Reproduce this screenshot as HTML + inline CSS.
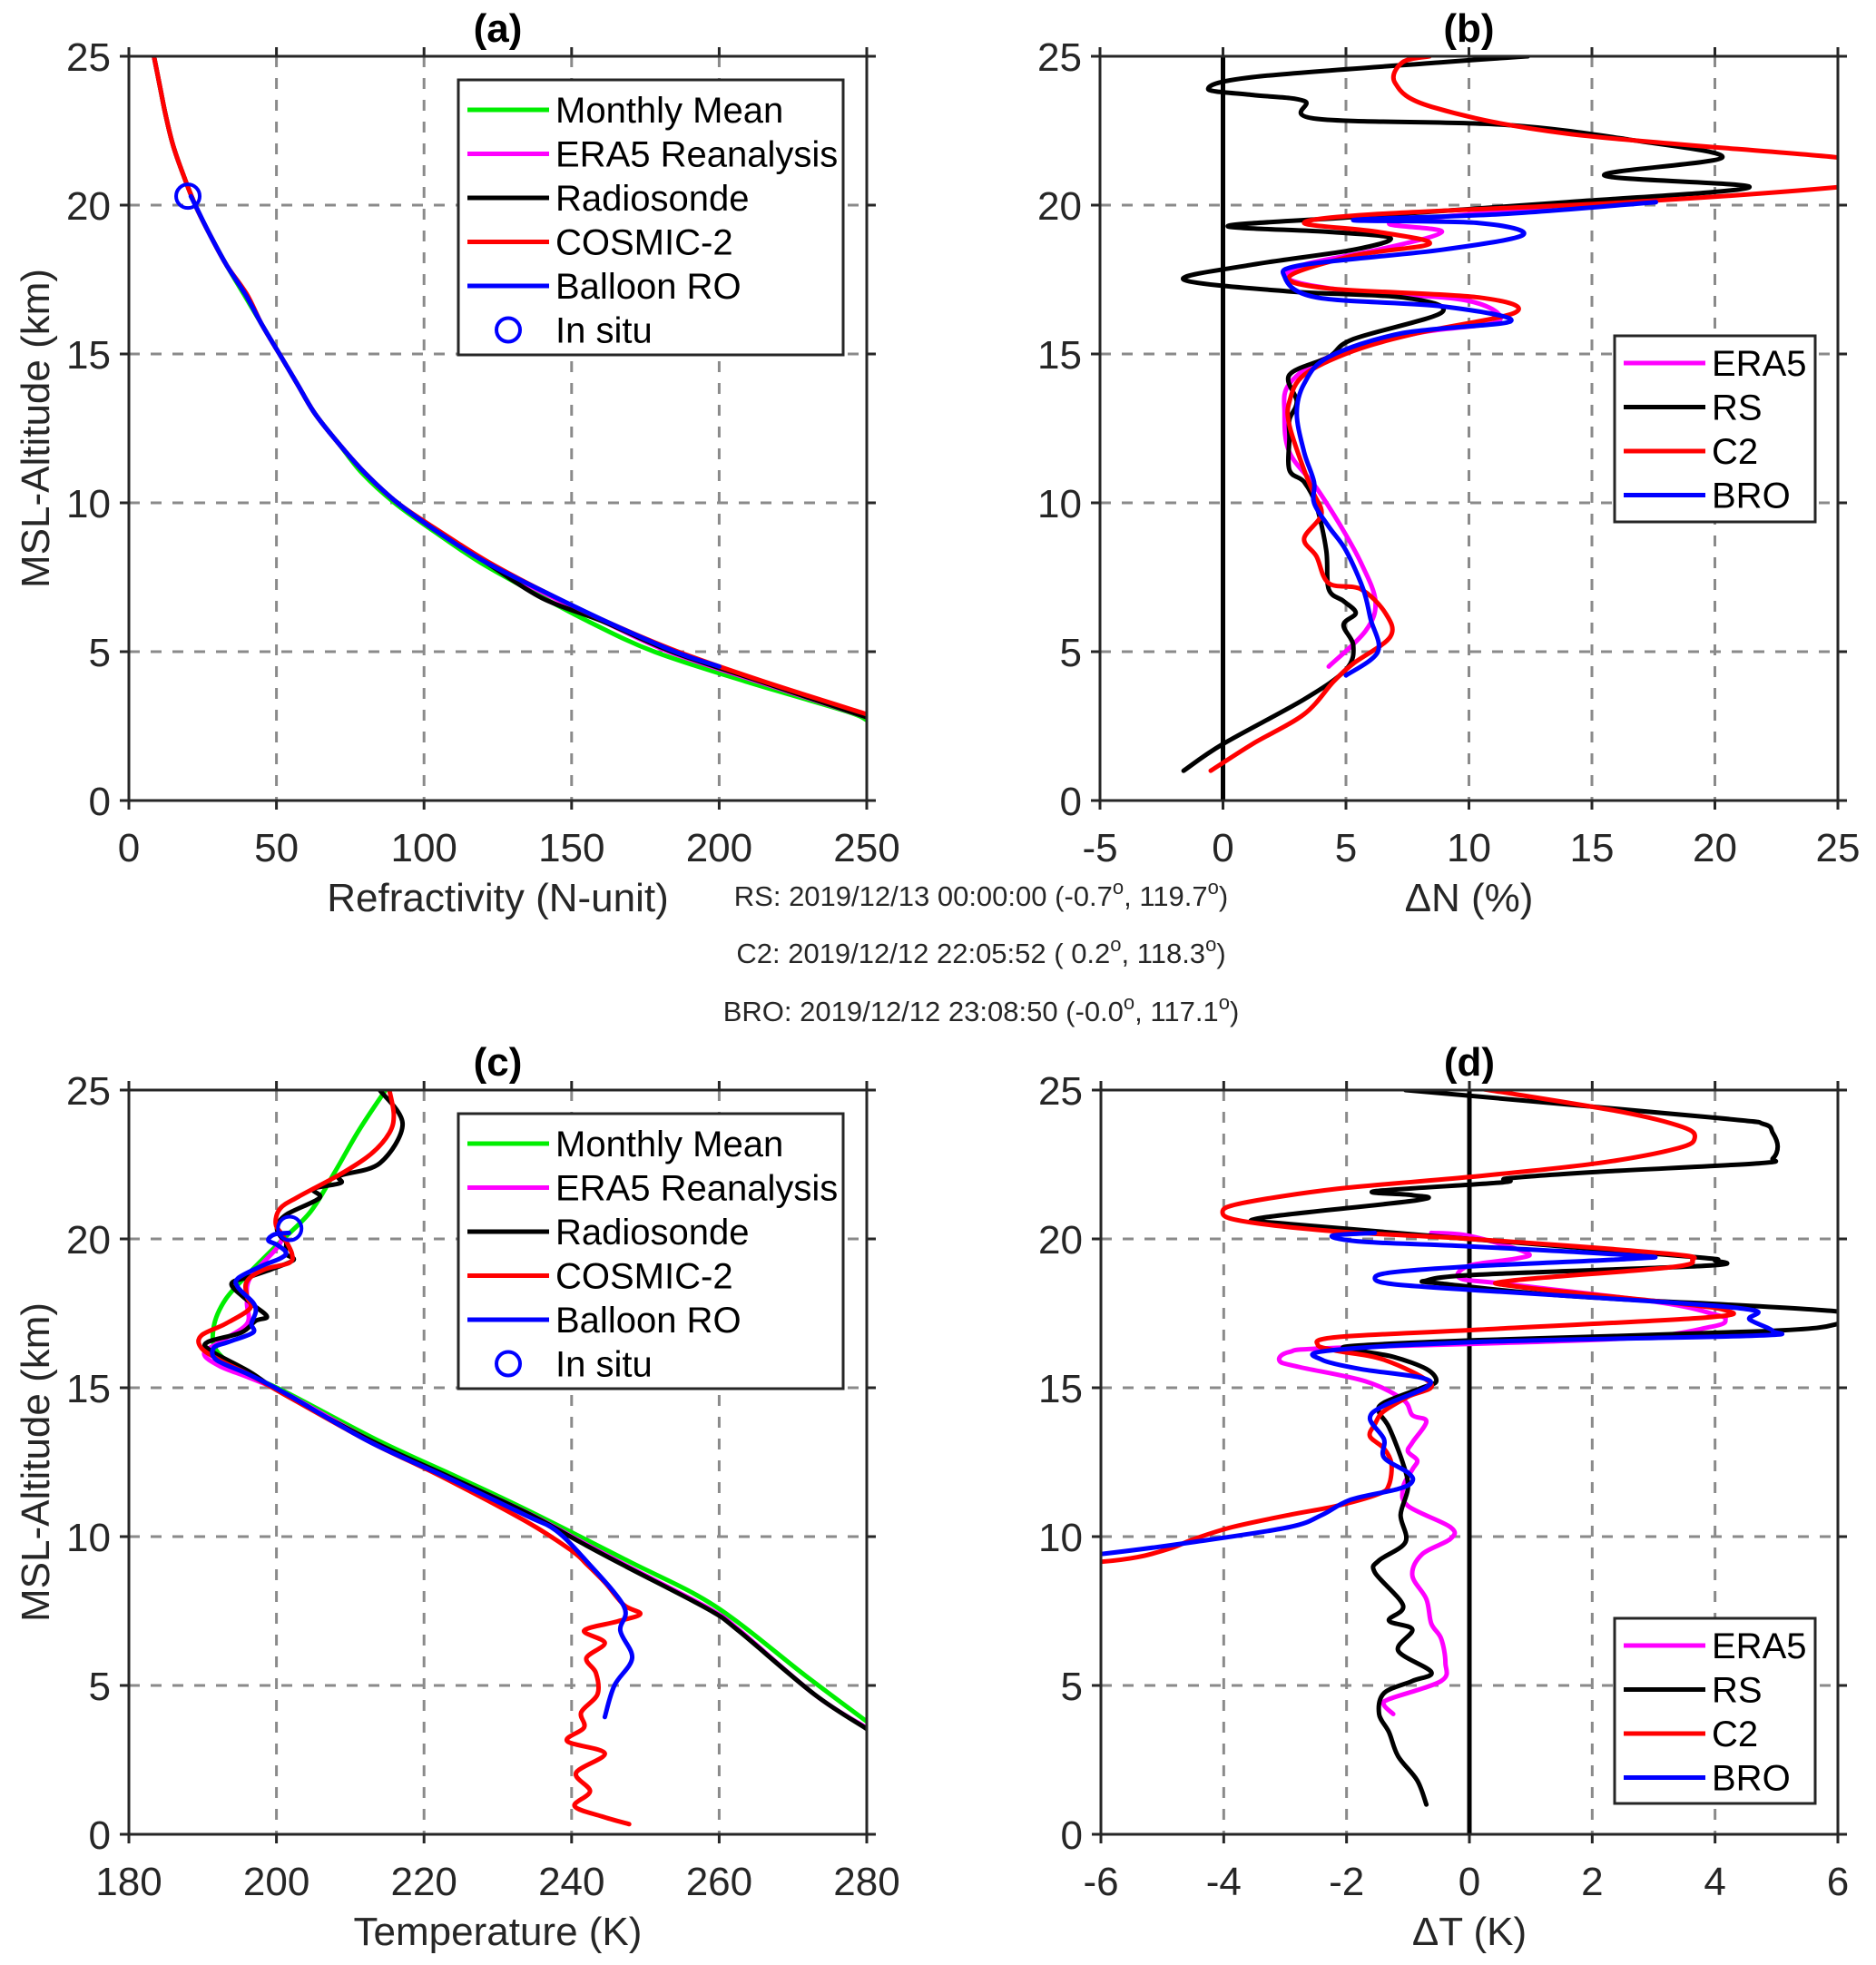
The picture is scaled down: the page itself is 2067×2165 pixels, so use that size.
<!DOCTYPE html>
<html><head><meta charset="utf-8">
<style>
html,body{margin:0;padding:0;background:#fff;}
svg{display:block;font-family:"Liberation Sans",Arial,sans-serif;}
</style></head>
<body>
<svg id="fig" width="2067" height="2165" viewBox="0 0 2067 2165" xmlns="http://www.w3.org/2000/svg">
<rect x="0" y="0" width="2067" height="2165" fill="#fff"/>
<g font-size="31" fill="#262626" text-anchor="middle">
<text x="1081" y="998">RS: 2019/12/13 00:00:00 (-0.7<tspan dy="-13" font-size="22">o</tspan><tspan dy="13">, 119.7</tspan><tspan dy="-13" font-size="22">o</tspan><tspan dy="13">)</tspan></text>
<text x="1081" y="1061">C2: 2019/12/12 22:05:52 ( 0.2<tspan dy="-13" font-size="22">o</tspan><tspan dy="13">, 118.3</tspan><tspan dy="-13" font-size="22">o</tspan><tspan dy="13">)</tspan></text>
<text x="1081" y="1125">BRO: 2019/12/12 23:08:50 (-0.0<tspan dy="-13" font-size="22">o</tspan><tspan dy="13">, 117.1</tspan><tspan dy="-13" font-size="22">o</tspan><tspan dy="13">)</tspan></text>
</g>
</svg>
<script>
// ---------- data: panel (a) refractivity ----------
const aMeanZ=[2.7,3,4,5,6,7,8,9,10,11,12,13,14,15,16,17,18,19,20,21,22,23,24,25];
const aMeanN=[250,243,209,178,156,137,119,104,90,79,71,63,57,51,45,39,33,27.5,22.5,18.5,15,12.5,10.5,8.5];
const aEraZ=[2.8,4,5,6,7,8,9,10,11,12,13,14,15,16,17,18,19,20,21,22,23,24,25];
const aEraN=[250,213,183,161,140,121,105,91,80,71,63,57,51,45,39.5,33,27.5,22.5,18.5,15,12.5,10.5,8.5];
const aRsZ=[2.8,4,5,6,6.8,8,9,10,11,12,13,14,15,16,17,18,19,20,21,22,23,24,25];
const aRsN=[250,214,184,161,140,121,105,91,80,71,63,57,51,45,39.5,33,27.5,22.5,18.5,15,12.5,10.5,8.5];
const aC2Z=[2.9,4,5,6,7,8,9,10,11,12,13,14,15,16,17,18,19,20,21,22,23,24,25];
const aC2N=[250,215,186,162,141,122,106,91,80,71,63,57,51,45,40,33,27.5,22.5,18.5,15,12.5,10.5,8.5];
const aBroZ=[4.5,5,6,7,8,9,10,11,12,13,14,15,16,17,18,19,20,20.3];
const aBroN=[200,185,162,141,121,105,91,80,71,63,57,51,45,39.5,33,27.5,22.5,21];
const aInsitu=[20,20.3];
// ---------- panel (b) dN % ----------
const bEraZ=[4.5,5.7,6.7,8,9.2,10.5,11.7,13,14,14.9,15.7,16.1,16.8,17.1,17.5,18,18.5,19.1,19.4,19.8,20.1];
const bEraX=[4.3,5.8,6.2,5.6,4.8,3.8,2.7,2.5,2.7,4.3,7.9,11.2,9.9,5.3,2.7,3.3,6.3,8.9,6.8,11.4,15];
const bRsZ=[1,1.9,3.4,4.4,5.2,5.9,6.3,6.7,7.1,8.4,9.9,10.7,11.1,12.2,12.8,13.4,14.3,14.9,15.5,16.4,16.9,17.1,17.5,18,18.5,18.9,19.1,19.3,19.6,20.1,20.6,21,21.6,22.2,22.7,22.9,23.5,23.7,23.9,24.3,24.8,25];
const bRsX=[-1.6,0,3.3,5,5.3,4.9,5.4,4.9,4.3,4.2,3.8,3.3,2.7,2.7,2.7,3,2.7,4.3,5.3,8.9,7.3,2.7,-1.6,1.2,5.3,6.8,4.3,0.2,5.3,14,21.4,15.5,20.3,16.5,11.4,3.8,3.3,1.2,-0.6,1.2,8.9,12.4];
const bC2Z=[1,1.9,2.9,4,4.6,5.5,6.3,7.1,7.3,8.2,8.8,9.6,10.3,11.1,12.6,13.4,14.3,15.1,15.7,16.4,16.9,17.2,17.6,18.3,18.7,19.1,19.4,19.7,20.1,20.6,21.1,21.6,22.4,23.3,24.1,24.8,25];
const bC2X=[-0.5,1.2,3.3,4.5,5.3,6.8,6.6,5.6,4.3,3.8,3.3,4,3.7,3.3,2.7,2.7,3.3,5.3,7.9,11.9,10.4,4.3,2.7,5.3,8.4,6.3,3.3,6.3,16.5,25,30,25,14,8.5,7,7.3,8.4];
const bBroZ=[4.2,5,6.1,7.1,8.4,9.2,10,10.7,11.7,13,14,14.9,15.7,16.1,16.6,16.9,17.6,18,18.5,19,19.4,19.5,19.7,20.1];
const bBroX=[5,6.3,6,5.7,5,4.3,3.7,3.7,3.3,3,3.3,4.3,7.3,11.7,8.9,3.8,2.5,3.3,8.9,12.2,10.4,5.3,11.4,17.6];
// ---------- panel (c) temperature ----------
const cMeanZ=[3.79,5.33,7.67,9.2,10.9,12,13.2,14.8,15.53,16.24,17.05,17.97,18.88,19.9,20.91,22.24,23.66,25];
const cMeanT=[280,271.7,259.4,247.5,233.9,224.5,214,201.7,195.6,191.9,191.5,193.1,196.4,200.5,204.6,207.9,211.2,214.8];
const cEraZ=[3.6,4.7,6.84,7.56,8.98,9.7,10.8,12,13.2,14.8,15.33,15.73,16.14,16.54,17.15,17.87,18.68,19.7,20.1];
const cEraT=[279.8,272.9,262.8,258.8,247.8,242.3,234,223.5,213,201.3,196.4,192.3,190.2,192.3,196,196,196.4,200.1,200.8];
const cRsZ=[3.54,4.7,6.84,7.56,8.98,9.7,10.8,12,13.2,14.8,15.53,16.24,16.54,16.85,17.25,17.4,17.87,18.48,18.73,18.98,19.29,19.5,19.9,20.1,20.4,20.81,21.37,21.68,21.88,22.13,22.54,23.86,25];
const cRsT=[280,272.9,262.6,258.5,247.5,242,233.9,223.5,213,200.9,196.4,191.1,190.7,195.2,197.2,198.7,196.4,193.9,196.4,199.3,202.3,201.3,201.3,200.5,200.1,201.3,205.8,205,208.7,208.7,214,217.1,214];
const cC2Z=[0.34,0.6,0.95,1.45,2.06,2.72,3.13,3.59,4.1,4.7,5.42,5.92,6.43,6.84,7.15,7.4,7.7,8.46,9.08,9.53,10.5,12,13.2,14.8,15.43,15.93,16.34,16.75,17.15,17.66,18.07,18.58,18.98,19.19,19.5,20.1,20.5,21.02,21.42,22.18,22.85,23.56,24.17,25];
const cC2T=[247.8,244.1,240.4,242.5,240.6,244.5,239.4,241.7,241.3,243.5,243.3,242,244.5,241.7,246.2,249.3,247.1,244.5,242,240,233.9,222.5,212.5,200.9,196.4,192.3,189.8,189.8,193.1,196.4,196,196,198.4,201.7,202.1,200.9,199.9,200.5,203,208.7,212.8,215.3,215.9,215.3];
const cBroZ=[3.94,5.0,5.92,6.84,7.65,9.18,10.2,10.7,12,13.2,14.8,15.43,15.93,16.34,16.54,16.85,17.15,17.56,17.87,18.37,18.68,19.09,19.34,19.54,19.8,19.95,20.15,20.2];
const cBroT=[244.5,245.8,248.2,246.6,247.1,242,237.9,233.9,223,212.5,201.3,196.4,191.9,191.5,193.5,196.8,196.6,197.2,196.8,194.8,194.8,198,200.5,201.3,200.1,198.9,199.7,201.7];
const cInsitu=[201.8,20.35];
// ---------- panel (d) dT ----------
const dEraZ=[4.04,4.34,4.54,5.15,5.76,6.57,7.08,7.9,8.7,9.41,9.92,10.32,11.03,11.64,12.25,12.56,12.86,13.16,13.87,14.08,14.6,15.22,15.7,15.9,16.2,16.34,16.65,17.05,17.3,17.46,17.87,18.48,18.68,19.1,19.34,19.54,20.1,20.2];
const dEraX=[-1.24,-1.39,-1.31,-0.46,-0.39,-0.46,-0.62,-0.7,-0.93,-0.77,-0.31,-0.31,-1.0,-1.08,-0.93,-0.85,-1.0,-0.93,-0.7,-0.93,-1.08,-1.7,-2.78,-3.09,-2.93,-2.16,2.47,3.94,4.17,4.0,3.09,0.62,-0.15,0,0.77,0.93,0,-0.62];
const dRsZ=[1.0,1.81,2.62,3.43,4.04,4.74,5.15,5.45,6.17,6.88,7.18,7.69,8.8,9.2,9.82,10.73,11.64,12.45,13.67,14.18,14.5,15.0,15.22,15.63,16.04,16.24,16.4,16.6,16.9,17.15,17.56,18.07,18.5,18.6,18.8,19.1,19.27,19.4,20,20.5,20.7,21.3,21.47,21.6,21.9,22.03,22.24,22.54,22.7,23.1,23.56,23.86,24.07,25];
const dRsX=[-0.7,-0.85,-1.16,-1.31,-1.47,-1.39,-0.93,-0.62,-1.16,-0.93,-1.31,-1.08,-1.54,-1.47,-1.04,-1.12,-1.0,-1.08,-1.31,-1.47,-1.39,-0.77,-0.54,-0.7,-1.24,-1.78,-1.93,0.15,4.79,6,6,1.7,-0.46,-0.7,0.15,3.86,4.0,3.63,0,-2.93,-3.4,-0.85,-0.93,-1.54,0.54,0.62,2.0,4.71,4.94,5.02,4.94,4.79,4.0,-1.04];
const dC2Z=[9.05,9.15,9.31,9.61,9.92,10.32,10.73,11.03,11.44,11.74,12.45,12.96,13.37,13.77,14.2,14.7,15.12,15.94,16.24,16.44,16.7,16.95,17.36,17.6,17.87,18.4,18.6,19.04,19.29,19.5,20,20.25,20.6,20.9,21.2,21.68,22.08,22.54,23.05,23.4,23.76,24.27,25.03];
const dC2X=[-7,-6.02,-5.4,-4.86,-4.48,-3.86,-2.93,-2.16,-1.47,-1.31,-1.27,-1.39,-1.62,-1.54,-1.4,-1.0,-0.62,-1.39,-2.16,-2.47,-2.16,0.15,3.86,4.17,3.24,0.77,0.7,3.24,3.63,3.24,0,-2.16,-3.7,-4.02,-3.7,-2.16,0,2.08,3.4,3.67,3.47,2.47,0.23];
const dBroZ=[9.35,9.41,9.82,10.32,10.73,11.24,11.6,11.85,12.15,12.66,13.27,13.97,14.4,15.02,15.33,15.63,15.94,16.24,16.54,16.75,16.9,17.3,17.6,17.87,18.27,18.48,18.68,18.88,19.09,19.34,19.44,19.75,19.9,20.1,20.2];
const dBroX=[-6.5,-6.02,-4.48,-2.93,-2.4,-1.93,-1.16,-0.93,-1.0,-1.39,-1.39,-1.62,-1.39,-0.7,-0.77,-1.78,-2.4,-2.32,0.15,4.63,4.94,4.56,4.63,3.24,0.15,-1.24,-1.54,-1.24,0.15,2.7,2.7,0,-1.7,-2.24,-1.54];
// ---------- tick labels ----------
const yTicks=[0,5,10,15,20,25];
const aTicks=[0,50,100,150,200,250];
const bTicks=[-5,0,5,10,15,20,25];
const cTicks=[180,200,220,240,260,280];
const dTicks=[-6,-4,-2,0,2,4,6];

const NS='http://www.w3.org/2000/svg';
const svg=document.getElementById('fig');
function mk(tag,attrs,parent){const e=document.createElementNS(NS,tag);for(const k in attrs)e.setAttribute(k,attrs[k]);(parent||svg).appendChild(e);return e;}
const COL={green:'#00ee00',mag:'#ff00ff',black:'#000',red:'#ff0000',blue:'#0000ff'};

function smoothPath(pts){
  if(pts.length<2)return '';
  let d='M'+pts[0][0].toFixed(1)+','+pts[0][1].toFixed(1);
  for(let i=0;i<pts.length-1;i++){
    const p0=pts[i-1]||pts[i],p1=pts[i],p2=pts[i+1],p3=pts[i+2]||pts[i+1];
    const c1=[p1[0]+(p2[0]-p0[0])/6,p1[1]+(p2[1]-p0[1])/6];
    const c2=[p2[0]-(p3[0]-p1[0])/6,p2[1]-(p3[1]-p1[1])/6];
    d+=' C'+c1[0].toFixed(1)+','+c1[1].toFixed(1)+' '+c2[0].toFixed(1)+','+c2[1].toFixed(1)+' '+p2[0].toFixed(1)+','+p2[1].toFixed(1);
  }
  return d;
}

function panel(cfg){
  const {id,x0,x1,yTop,yBot,xmin,xmax,xticks,xlabel,title,ylabel}=cfg;
  const sx=v=>x0+(v-xmin)/(xmax-xmin)*(x1-x0);
  const sy=v=>yBot-(v/25)*(yBot-yTop);
  const g=mk('g',{});
  
  
  const cp=mk('clipPath',{id:'clip-'+id},g);
  mk('rect',{x:x0,y:yTop,width:x1-x0,height:yBot-yTop},cp);
  const grid=mk('g',{stroke:'#8a8a8a','stroke-width':3,'stroke-dasharray':'12,12'},g);
  
  
  xticks.forEach(v=>{const x=sx(v);if(v!==xmin&&v!==xmax)mk('line',{x1:x,x2:x,y1:yTop,y2:yBot},grid);});
  yTicks.forEach(v=>{const y=sy(v);if(v!==0&&v!==25)mk('line',{x1:x0,x2:x1,y1:y,y2:y},grid);});
  if(cfg.zeroLine){const zl=mk('line',{x1:sx(0),x2:sx(0),y1:yTop,y2:yBot,stroke:'#000','stroke-width':5},g);
    
    }
  const sg=mk('g',{'clip-path':'url(#clip-'+id+')',fill:'none','stroke-width':5,'stroke-linejoin':'round','stroke-linecap':'round'},g);
  cfg.series.forEach(s=>{
    const pts=s.z.map((z,i)=>[sx(s.x[i]),sy(z)]);
    const p=mk('path',{d:smoothPath(pts),stroke:s.color},sg);
    
    
  });
  if(cfg.insitu){const c=mk('circle',{cx:sx(cfg.insitu[0]),cy:sy(cfg.insitu[1]),r:13,fill:'none',stroke:COL.blue,'stroke-width':4},g);
    
    }
  const ax=mk('g',{stroke:'#262626','stroke-width':3,fill:'none'},g);
  
  
  mk('rect',{x:x0,y:yTop,width:x1-x0,height:yBot-yTop},ax);
  xticks.forEach(v=>{const x=sx(v);mk('line',{x1:x,x2:x,y1:yBot,y2:yBot+10},ax);mk('line',{x1:x,x2:x,y1:yTop,y2:yTop-10},ax);});
  yTicks.forEach(v=>{const y=sy(v);mk('line',{x1:x0-10,x2:x0,y1:y,y2:y},ax);mk('line',{x1:x1,x2:x1+10,y1:y,y2:y},ax);});
  const tl=mk('g',{'font-size':44,fill:'#262626'},g);
  
  
  xticks.forEach(v=>{const t=mk('text',{x:sx(v),y:yBot+67,'text-anchor':'middle'},tl);t.textContent=String(v);});
  yTicks.forEach(v=>{const t=mk('text',{x:x0-20,y:sy(v)+16,'text-anchor':'end'},tl);t.textContent=String(v);});
  const xl=mk('text',{x:(x0+x1)/2,y:yBot+122,'text-anchor':'middle','font-size':44,fill:'#262626'},g);
  
  
  xl.textContent=xlabel;
  const tt=mk('text',{x:(x0+x1)/2,y:yTop-16,'text-anchor':'middle','font-size':44,'font-weight':'bold',fill:'#000'},g);
  
  
  tt.textContent=title;
  if(ylabel){const yl=mk('text',{x:0,y:0,'text-anchor':'middle','font-size':44,fill:'#262626',transform:'translate(54,'+((yTop+yBot)/2)+') rotate(-90)'},g);
    
    
    yl.textContent=ylabel;}
  const L=cfg.legend;
  const lg=mk('g',{},g);
  
  
  mk('rect',{x:L.x,y:L.y,width:L.w,height:L.h,fill:'#fff',stroke:'#262626','stroke-width':3},lg);
  L.items.forEach((it,i)=>{
    const y=L.y+L.first+i*L.step;
    const e=mk('g',{},lg);
    
    
    if(it.marker){mk('circle',{cx:L.x+55,cy:y,r:13,fill:'none',stroke:COL.blue,'stroke-width':4},e);}
    else mk('line',{x1:L.x+10,x2:L.x+100,y1:y,y2:y,stroke:it.color,'stroke-width':5},e);
    const t=mk('text',{x:L.x+107,y:y+14,'font-size':L.fs,fill:'#000'},e);t.textContent=it.label;
  });
}

const bigItems=[{label:'Monthly Mean',color:COL.green},{label:'ERA5 Reanalysis',color:COL.mag},{label:'Radiosonde',color:COL.black},{label:'COSMIC-2',color:COL.red},{label:'Balloon RO',color:COL.blue},{label:'In situ',marker:true}];
const smallItems=[{label:'ERA5',color:COL.mag},{label:'RS',color:COL.black},{label:'C2',color:COL.red},{label:'BRO',color:COL.blue}];

panel({id:'a',x0:142,x1:955,yTop:62,yBot:882,xmin:0,xmax:250,xticks:aTicks,xlabel:'Refractivity (N-unit)',title:'(a)',ylabel:'MSL-Altitude (km)',
  series:[{name:'monthly-mean',z:aMeanZ,x:aMeanN,color:COL.green},{name:'era5',z:aEraZ,x:aEraN,color:COL.mag},{name:'radiosonde',z:aRsZ,x:aRsN,color:COL.black},{name:'cosmic2',z:aC2Z,x:aC2N,color:COL.red},{name:'balloon-ro',z:aBroZ,x:aBroN,color:COL.blue}],
  insitu:aInsitu,legend:{x:505,y:88,w:424,h:303,first:33,step:48.5,fs:40,items:bigItems}});
panel({id:'b',x0:1212,x1:2025,yTop:62,yBot:882,xmin:-5,xmax:25,xticks:bTicks,xlabel:'\u0394N (%)',title:'(b)',zeroLine:true,
  series:[{name:'era5',z:bEraZ,x:bEraX,color:COL.mag},{name:'rs',z:bRsZ,x:bRsX,color:COL.black},{name:'c2',z:bC2Z,x:bC2X,color:COL.red},{name:'bro',z:bBroZ,x:bBroX,color:COL.blue}],
  legend:{x:1779,y:370,w:221,h:205,first:30,step:48.5,fs:40,items:smallItems}});
panel({id:'c',x0:142,x1:955,yTop:1201,yBot:2021,xmin:180,xmax:280,xticks:cTicks,xlabel:'Temperature (K)',title:'(c)',ylabel:'MSL-Altitude (km)',
  series:[{name:'monthly-mean',z:cMeanZ,x:cMeanT,color:COL.green},{name:'era5',z:cEraZ,x:cEraT,color:COL.mag},{name:'radiosonde',z:cRsZ,x:cRsT,color:COL.black},{name:'cosmic2',z:cC2Z,x:cC2T,color:COL.red},{name:'balloon-ro',z:cBroZ,x:cBroT,color:COL.blue}],
  insitu:cInsitu,legend:{x:505,y:1227,w:424,h:303,first:33,step:48.5,fs:40,items:bigItems}});
panel({id:'d',x0:1213,x1:2025,yTop:1201,yBot:2021,xmin:-6,xmax:6,xticks:dTicks,xlabel:'\u0394T (K)',title:'(d)',zeroLine:true,
  series:[{name:'era5',z:dEraZ,x:dEraX,color:COL.mag},{name:'rs',z:dRsZ,x:dRsX,color:COL.black},{name:'c2',z:dC2Z,x:dC2X,color:COL.red},{name:'bro',z:dBroZ,x:dBroX,color:COL.blue}],
  legend:{x:1779,y:1783,w:221,h:204,first:30,step:48.5,fs:40,items:smallItems}});
</script>
</body></html>
